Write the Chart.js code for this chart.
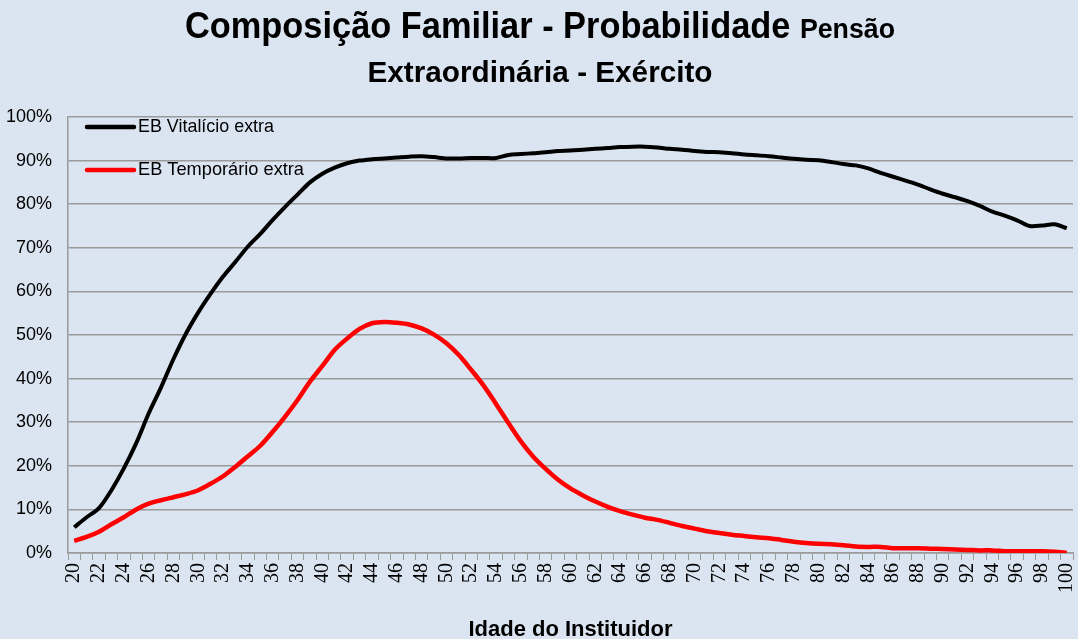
<!DOCTYPE html>
<html lang="pt">
<head>
<meta charset="utf-8">
<title>Composição Familiar - Probabilidade Pensão Extraordinária - Exército</title>
<script src="https://cdn.jsdelivr.net/npm/chart.js@4.4.1/dist/chart.umd.min.js"></script>
<style>
  html, body { margin: 0; padding: 0; background: #dbe5f1; }
  #caixa { width: 1078px; height: 639px; }
</style>
</head>
<body>
<div id="caixa"><canvas id="grafico"></canvas></div>
<script>
// dados (em %)
const idades = [20,21,22,23,24,25,26,27,28,29,30,31,32,33,34,35,36,37,38,39,
  40,41,42,43,44,45,46,47,48,49,50,51,52,53,54,55,56,57,58,59,
  60,61,62,63,64,65,66,67,68,69,70,71,72,73,74,75,76,77,78,79,
  80,81,82,83,84,85,86,87,88,89,90,91,92,93,94,95,96,97,98,99,100];

const vitalicio = [5.9,8.2,10.3,14.4,19.4,25.2,32.0,38.0,44.5,50.3,
  55.2,59.5,63.4,66.8,70.3,73.2,76.4,79.4,82.2,85.0,
  87.0,88.4,89.4,90.0,90.3,90.5,90.7,90.9,91.0,90.8,
  90.5,90.5,90.6,90.6,90.6,91.3,91.5,91.7,91.9,92.2,
  92.3,92.5,92.7,92.9,93.1,93.2,93.2,93.0,92.7,92.5,
  92.2,92.0,91.9,91.7,91.4,91.2,91.0,90.7,90.4,90.2,
  90.1,89.7,89.2,88.9,88.2,87.2,86.3,85.4,84.5,83.4,
  82.4,81.6,80.7,79.6,78.3,77.4,76.3,75.0,75.1,75.4,74.5];

const temporario = [2.8,3.7,4.9,6.6,8.2,10.0,11.3,12.1,12.8,13.5,
  14.4,15.9,17.6,19.8,22.2,24.6,27.8,31.3,35.1,39.3,
  42.9,46.6,49.2,51.4,52.7,53.0,52.8,52.4,51.5,50.1,
  48.1,45.4,42.0,38.4,34.2,29.8,25.6,22.1,19.3,16.8,
  14.8,13.2,11.8,10.6,9.6,8.8,8.1,7.6,6.9,6.2,
  5.6,5.0,4.6,4.2,3.9,3.6,3.4,3.0,2.6,2.3,
  2.1,2.0,1.8,1.5,1.4,1.4,1.1,1.1,1.1,1.0,
  0.9,0.8,0.7,0.6,0.6,0.4,0.4,0.4,0.4,0.3,0.0];

const nomesSeries = ['EB Vitalício extra', 'EB Temporário extra'];
const coresSeries = ['#000000', '#ff0000'];

const tituloLinha1 = 'Composição Familiar - Probabilidade';
const tituloPensao = 'Pensão';
const tituloLinha2 = 'Extraordinária - Exército';
const tituloEixoX = 'Idade do Instituidor';

const FONTE = '"Liberation Sans", Arial, sans-serif';
const FUNDO = '#dbe5f1';
const CINZA = '#9a9a9a';

// fundo do canvas
const pluginFundo = {
  id: 'fundo',
  beforeDraw(chart) {
    const ctx = chart.ctx;
    ctx.save();
    ctx.fillStyle = FUNDO;
    ctx.fillRect(0, 0, chart.width, chart.height);
    ctx.restore();
  }
};

// escreve texto comprimido na horizontal (a fonte original e estreita)
function textoEstreito(ctx, txt, xCentro, y, larguraAlvo) {
  const w = ctx.measureText(txt).width;
  const k = larguraAlvo / w;
  ctx.save();
  ctx.translate(xCentro, y);
  ctx.scale(k, 1);
  ctx.textAlign = 'center';
  ctx.fillText(txt, 0, 0);
  ctx.restore();
}

// titulo com "Pensão" menor
const pluginTitulo = {
  id: 'tituloMisto',
  afterDraw(chart) {
    const ctx = chart.ctx;
    ctx.save();
    ctx.fillStyle = '#000';
    ctx.textBaseline = 'alphabetic';

    // linha 1: parte grande + "Pensão"
    ctx.font = 'bold 36px ' + FONTE;
    const wa = ctx.measureText(tituloLinha1 + ' ').width;
    ctx.font = 'bold 28px ' + FONTE;
    const wb = ctx.measureText(tituloPensao).width;
    const k = 710 / (wa + wb);
    const x0 = 540 - 355;
    ctx.save();
    ctx.translate(x0, 38);
    ctx.scale(k, 1);
    ctx.textAlign = 'left';
    ctx.font = 'bold 36px ' + FONTE;
    ctx.fillText(tituloLinha1 + ' ', 0, 0);
    ctx.font = 'bold 28px ' + FONTE;
    ctx.fillText(tituloPensao, wa, 0);
    ctx.restore();

    // linha 2
    ctx.font = 'bold 30px ' + FONTE;
    textoEstreito(ctx, tituloLinha2, 540, 82, 345);
    ctx.restore();
  }
};

// legenda dentro da area do grafico, em coluna
const pluginLegenda = {
  id: 'legendaDentro',
  afterDatasetsDraw(chart) {
    const ctx = chart.ctx;
    const a = chart.chartArea;
    ctx.save();
    ctx.font = '19px ' + FONTE;
    ctx.textBaseline = 'middle';
    chart.data.datasets.forEach((ds, i) => {
      const y = a.top + 10 + i * 43;
      ctx.strokeStyle = ds.borderColor;
      ctx.lineWidth = 4.5;
      ctx.lineCap = 'round';
      ctx.beginPath();
      ctx.moveTo(a.left + 19, y);
      ctx.lineTo(a.left + 66, y);
      ctx.stroke();
      ctx.fillStyle = '#000';
      textoEstreito(ctx, ds.label, a.left + 70 + (i === 0 ? 68 : 83), y, i === 0 ? 136 : 166);
    });
    ctx.restore();
  }
};

const ctx = document.getElementById('grafico');
const grafico = new Chart(ctx, {
  type: 'line',
  data: {
    labels: idades,
    datasets: [
      {
        label: nomesSeries[0],
        data: vitalicio,
        borderColor: coresSeries[0],
        backgroundColor: coresSeries[0],
        borderWidth: 4,
        pointRadius: 0,
        tension: 0.3
      },
      {
        label: nomesSeries[1],
        data: temporario,
        borderColor: coresSeries[1],
        backgroundColor: coresSeries[1],
        borderWidth: 4.5,
        pointRadius: 0,
        tension: 0.3
      }
    ]
  },
  options: {
    responsive: true,
    maintainAspectRatio: false,
    animation: false,
    layout: { padding: { top: 117, right: 5, left: 0, bottom: 0 } },
    plugins: {
      legend: { display: false },
      title: { display: false },
      tooltip: { enabled: false }
    },
    scales: {
      x: {
        type: 'category',
        offset: true,
        grid: { offset: true, drawOnChartArea: false, drawTicks: true, tickLength: 7, color: CINZA },
        border: { color: CINZA, width: 1.5 },
        ticks: {
          autoSkip: false,
          minRotation: 90,
          maxRotation: 90,
          padding: 3,
          color: '#000',
          font: { family: '"Liberation Serif", "Times New Roman", serif', size: 20 },
          callback: function (v, i) {
            return idades[i] % 2 === 0 ? String(idades[i]) : '';
          }
        },
        title: {
          display: true,
          text: tituloEixoX,
          color: '#000',
          font: { family: FONTE, size: 22, weight: 'bold' },
          padding: { top: 0, bottom: -4 }
        },
        afterFit: function (s) {
          s.height = 86;
          s.paddingLeft = 0;
          s.paddingRight = 0;
        }
      },
      y: {
        min: 0,
        max: 100,
        ticks: {
          stepSize: 10,
          padding: 16,
          color: '#000',
          font: { family: FONTE, size: 18 },
          callback: v => v + '%'
        },
        grid: { color: CINZA, lineWidth: 1.5, drawTicks: false },
        border: { color: CINZA, width: 1.5 },
        afterFit: function (s) { s.width = 68; }
      }
    }
  },
  plugins: [pluginFundo, pluginLegenda, pluginTitulo]
});
</script>
</body>
</html>
